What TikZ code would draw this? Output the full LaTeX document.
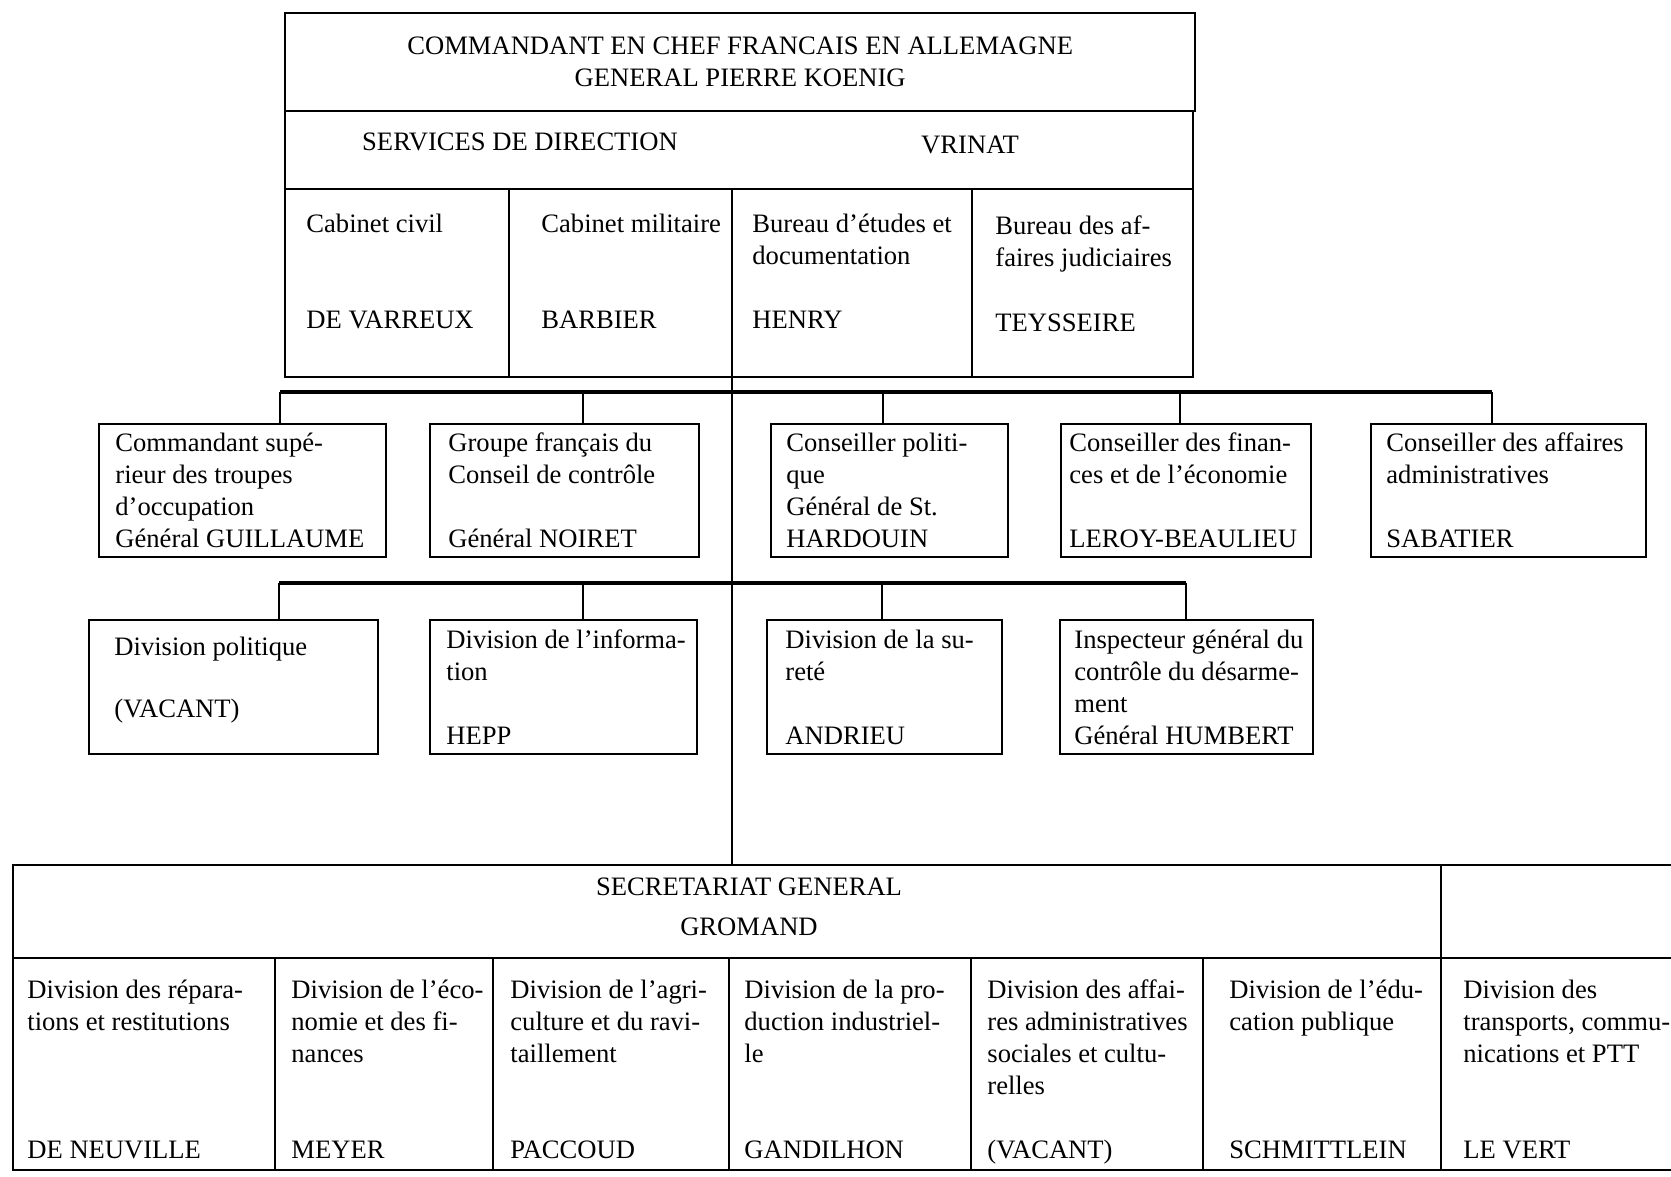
\documentclass[tikz,border=0pt]{standalone}
\usepackage{fontspec}
\setmainfont{Liberation Serif}
\begin{document}
\begin{tikzpicture}[x=1pt,y=-1pt,font=\fontsize{13.3}{16}\selectfont,
            orgbox/.style={draw,line width=1.2pt,anchor=north west,inner sep=0pt},
            orgtext/.style={anchor=west,align=left,inner sep=0pt},
            celltext/.style={anchor=north west,align=left,inner sep=0pt},
            cellname/.style={anchor=base west,inner sep=0pt},
            rule/.style={line width=1.2pt},
            bus/.style={line width=1.8pt},
            drop/.style={line width=1pt}]

        \useasboundingbox (0,0) rectangle (835.5,588.5);

        % Define top boxes
        \node[orgbox,minimum width=455pt,minimum height=49pt,align=center] (koenig) at (142,6)
            {COMMANDANT EN CHEF FRANCAIS EN ALLEMAGNE\\GENERAL PIERRE KOENIG};
        \node[orgbox,minimum width=454pt,minimum height=133pt] (srv) at (142,55) {};
        \node[inner sep=0pt] (srvtitle) at (260,71) {SERVICES DE DIRECTION};
        \node[inner sep=0pt] (vrinat) at (485,72.5) {VRINAT};

        \coordinate (srvsplit) at (142,94.5);
        \coordinate (cab) at (254.5,94.5);
        \coordinate (jud) at (486,94.5);
        \coordinate (trunk) at (366,94.5);
        \coordinate (sgtop) at (366,432.5);

        \node[celltext] (civ) at (153,106.7) {Cabinet civil};
        \node[celltext] (mil) at (270.5,106.7) {Cabinet militaire};
        \node[celltext] (etu) at (376,106.7) {Bureau d'études et\\documentation};
        \node[celltext] (aff) at (497.5,107.5) {Bureau des af-\\faires judiciaires};
        \node[cellname] (civname) at (153,164.4) {DE VARREUX};
        \node[cellname] (milname) at (270.5,164.4) {BARBIER};
        \node[cellname] (etuname) at (376,164.4) {HENRY};
        \node[cellname] (affname) at (497.5,165.5) {TEYSSEIRE};

        % Define first row
        \node[orgbox,minimum width=143.5pt,minimum height=66.5pt] (occ) at (49,211.5) {};
        \node[orgbox,minimum width=134.5pt,minimum height=66.5pt] (ctrl) at (214.5,211.5) {};
        \node[orgbox,minimum width=118.5pt,minimum height=66.5pt] (pol) at (385,211.5) {};
        \node[orgbox,minimum width=125pt,minimum height=66.5pt] (fin) at (530,211.5) {};
        \node[orgbox,minimum width=137.5pt,minimum height=66.5pt] (adm) at (685,211.5) {};

        \node[orgtext] (occtext) at ([xshift=8.5pt]occ.west)
            {Commandant supé-\\rieur des troupes\\d'occupation\\Général GUILLAUME};
        \node[orgtext] (ctrltext) at ([xshift=9.5pt]ctrl.west)
            {Groupe français du\\Conseil de contrôle\\[16pt]Général NOIRET};
        \node[orgtext] (poltext) at ([xshift=8pt]pol.west)
            {Conseiller politi-\\que\\Général de St.\\HARDOUIN};
        \node[orgtext] (fintext) at ([xshift=4.5pt]fin.west)
            {Conseiller des finan-\\ces et de l'économie\\[16pt]LEROY-BEAULIEU};
        \node[orgtext] (admtext) at ([xshift=8pt]adm.west)
            {Conseiller des affaires\\administratives\\[16pt]SABATIER};

        % Define second row
        \node[orgbox,minimum width=144.5pt,minimum height=67pt] (divpol) at (44,309.5) {};
        \node[orgbox,minimum width=133.5pt,minimum height=67pt] (info) at (214.5,309.5) {};
        \node[orgbox,minimum width=117.5pt,minimum height=67pt] (surete) at (383,309.5) {};
        \node[orgbox,minimum width=126.5pt,minimum height=67pt] (desarm) at (529.5,309.5) {};

        \node[orgtext] (divpoltext) at ([xshift=13pt,yshift=3.5pt]divpol.west)
            {Division politique\\[15pt](VACANT)};
        \node[orgtext] (infotext) at ([xshift=8.5pt]info.west)
            {Division de l'informa-\\tion\\[16pt]HEPP};
        \node[orgtext] (suretetext) at ([xshift=9.5pt]surete.west)
            {Division de la su-\\reté\\[16pt]ANDRIEU};
        \node[orgtext] (desarmtext) at ([xshift=7.5pt]desarm.west)
            {Inspecteur général du\\contrôle du désarme-\\ment\\Général HUMBERT};

        % Define secretariat general
        \coordinate (sgnw) at (6.5,432.5);
        \coordinate (sgne) at (836,432.5);
        \coordinate (sgsw) at (6.5,585);
        \coordinate (sgse) at (836,585);
        \coordinate (sgw) at (6.5,479);
        \coordinate (sge) at (836,479);
        \coordinate (ptt) at (720.5,432.5);
        \node[align=center,inner sep=0pt] (sg) at (374.5,453.5) {SECRETARIAT GENERAL\\[4pt]GROMAND};

        \node[celltext] (rep) at (13.5,489.7) {Division des répara-\\tions et restitutions};
        \node[celltext] (eco) at (145.5,489.7) {Division de l'éco-\\nomie et des fi-\\nances};
        \node[celltext] (agr) at (255,489.7) {Division de l'agri-\\culture et du ravi-\\taillement};
        \node[celltext] (ind) at (372,489.7) {Division de la pro-\\duction industriel-\\le};
        \node[celltext] (soc) at (493.5,489.7) {Division des affai-\\res administratives\\sociales et cultu-\\relles};
        \node[celltext] (edu) at (614.5,489.7) {Division de l'édu-\\cation publique};
        \node[celltext] (tra) at (731.5,489.7) {Division des\\transports, commu-\\nications et PTT};

        \node[cellname] (repname) at (13.5,579.4) {DE NEUVILLE};
        \node[cellname] (econame) at (145.5,579.4) {MEYER};
        \node[cellname] (agrname) at (255,579.4) {PACCOUD};
        \node[cellname] (indname) at (372,579.4) {GANDILHON};
        \node[cellname] (socname) at (493.5,579.4) {(VACANT)};
        \node[cellname] (eduname) at (614.5,579.4) {SCHMITTLEIN};
        \node[cellname] (traname) at (731.5,579.4) {LE VERT};

        % Draw box rules
        \draw[rule] (srvsplit) -- (srvsplit -| srv.east);
        \draw[rule] (cab) -- (cab |- srv.south);
        \draw[rule] (jud) -- (jud |- srv.south);
        \draw[rule] (sgne) -- (sgnw) -- (sgsw) -- (sgse);
        \draw[rule] (sgw) -- (sge);
        \draw[rule] (ptt) -- (ptt |- sgsw);
        \foreach \x in {137.5,246.5,364.5,485.5,601.5}
            \draw[rule] (\x,479) -- (\x,585);

        % Draw trunk and buses
        \draw[drop] (trunk) -- (sgtop);

        \coordinate (busa1) at (140,196);
        \coordinate (busa2) at (291.5,196);
        \coordinate (busa3) at (441.5,196);
        \coordinate (busa4) at (590,196);
        \coordinate (busa5) at (746,196);
        \draw[bus] (busa1) -- (busa5);
        \draw[drop] (busa1) -- (busa1 |- occ.north);
        \draw[drop] (busa2) -- (busa2 |- ctrl.north);
        \draw[drop] (busa3) -- (busa3 |- pol.north);
        \draw[drop] (busa4) -- (busa4 |- fin.north);
        \draw[drop] (busa5) -- (busa5 |- adm.north);

        \coordinate (busb1) at (139.5,291.5);
        \coordinate (busb2) at (291.5,291.5);
        \coordinate (busb3) at (441,291.5);
        \coordinate (busb4) at (593,291.5);
        \draw[bus] (busb1) -- (busb4);
        \draw[drop] (busb1) -- (busb1 |- divpol.north);
        \draw[drop] (busb2) -- (busb2 |- info.north);
        \draw[drop] (busb3) -- (busb3 |- surete.north);
        \draw[drop] (busb4) -- (busb4 |- desarm.north);

\end{tikzpicture}
\end{document}
